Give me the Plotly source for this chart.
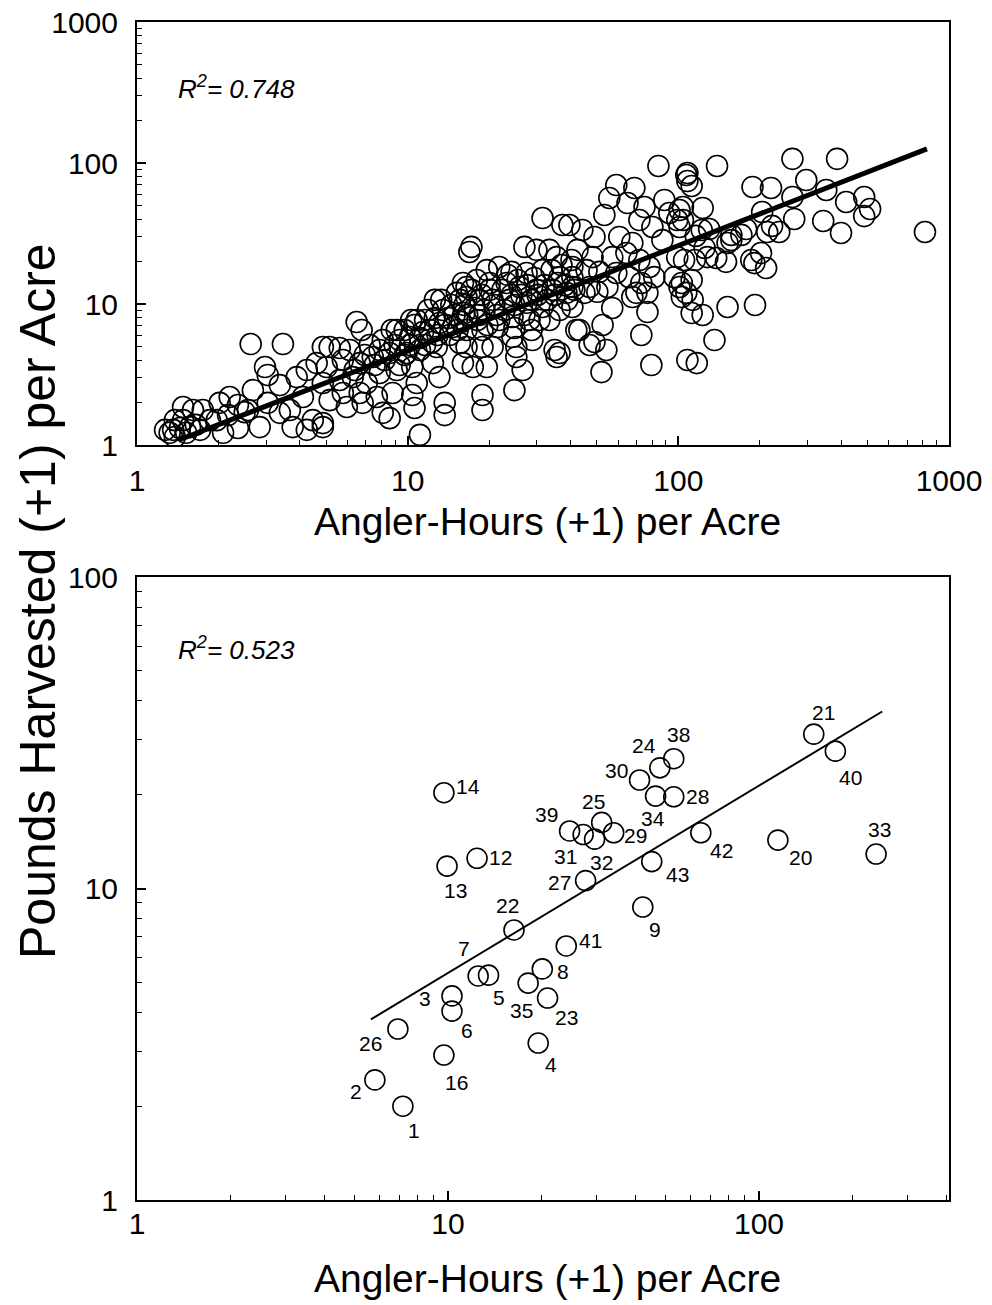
import numpy as np
import plotly.graph_objects as go

# ---------------- data ----------------
# Top panel: angler-hours (+1) per acre vs pounds harvested (+1) per acre
top_x = [
    2.63, 3.46, 2.97, 3.04, 3.37, 2.68, 2.20, 2.02, 2.36, 2.57, 3.04, 2.84, 2.36, 1.97, 1.75,
    1.61, 1.48, 1.48, 1.36, 1.27, 1.57, 3.76, 3.37, 3.67, 4.10, 3.89, 4.24, 4.61, 4.86, 4.46,
    4.86, 4.24, 2.08, 1.71, 1.44, 1.32, 1.38, 1.52, 1.65, 1.86, 2.17, 2.50, 1.38,
    6.48, 6.76, 15.2, 16.5, 10.8, 13.5, 13.1, 9.11, 8.09, 10.2, 11.4, 14.7, 15.6, 5.15, 5.61,
    6.65, 7.43, 8.58, 9.91, 11.1, 12.8, 5.02, 5.76, 4.86, 5.61, 6.27, 7.06, 7.88, 9.11, 10.4,
    12.4, 13.1, 10.8, 8.80, 7.69, 6.65, 5.76, 5.15, 5.96, 6.82, 8.09, 8.58, 10.6, 13.7, 13.7,
    11.1, 4.86, 10.4,
    31.5, 37.3, 17.2, 16.9, 27.0, 29.9, 33.4, 35.5, 19.6, 21.8, 24.2, 27.5, 31.5, 36.4, 40.6,
    16.0, 18.0, 20.1, 23.2, 25.9, 29.9, 34.3, 38.6, 16.5, 18.4, 20.6, 23.8, 27.5, 31.5, 36.4,
    40.6, 16.2, 18.4, 21.3, 24.4, 28.2, 33.4, 16.5, 18.9, 21.5, 24.8, 28.7, 42.0, 16.5, 18.9,
    20.6, 24.4, 25.2, 28.9, 34.9, 35.5, 16.0, 17.4, 19.6, 26.6, 25.2, 24.8, 18.9, 18.9,
    84.4, 107, 59.0, 68.8, 55.6, 64.9, 75.0, 88.8, 92.6, 53.3, 71.8, 80.2, 101, 101, 44.2,
    39.6, 49.0, 60.5, 67.6, 87.3, 99.1, 42.4, 48.2, 57.0, 64.3, 71.8, 78.2, 81.5, 96.7, 103,
    103, 40.6, 45.8, 51.1, 59.0, 65.9, 73.0, 40.6, 47.0, 54.7, 70.0, 76.9, 67.6, 57.0, 76.9,
    43.1, 52.5, 73.0, 47.0, 54.2, 49.0, 52.0, 79.5, 108, 45.0, 50.2, 36.4,
    139, 108, 112, 188, 220, 264, 297, 264, 268, 213, 236, 171, 157, 123, 122,
    104, 104, 125, 138, 150, 186, 202, 211, 191, 115, 128, 105, 112, 107, 113,
    123, 112, 152, 192, 136, 117, 101,
    386, 352, 417, 486, 511, 486, 343, 399, 815,
    108, 204, 222, 178, 152, 157, 130, 116, 99.1,
    9.34, 9.75, 10.2, 10.6, 11.1, 11.6, 12.1, 12.3, 12.6, 12.9, 13.3, 13.7, 14.1, 14.3, 14.5,
    14.9, 15.3, 15.6, 15.8, 16.2, 16.6, 17.2, 17.7, 18.1, 18.8, 19.2, 19.7, 20.1, 20.9, 21.8,
    22.4, 22.8, 23.4, 24.2, 24.8, 25.5, 26.3, 27.0, 27.7, 28.7, 29.4, 30.2, 30.7, 32.0, 32.8,
    34.0, 34.9, 35.8, 37.0, 38.0, 38.9, 40.3, 41.3, 7.88, 8.22, 8.95, 9.34, 9.75, 7.24, 7.55,
    6.94, 6.11, 6.37, 11.9, 12.6, 11.6, 10.3, 8.73,
]
top_y = [
    5.20, 5.20, 3.57, 3.14, 2.66, 2.45, 2.19, 1.99, 1.92, 1.77, 1.99, 1.34, 1.32, 1.50, 1.77,
    1.77, 1.86, 1.50, 1.28, 1.28, 1.34, 1.34, 1.69, 1.77, 2.19, 3.03, 3.40, 3.81, 4.95, 1.50,
    1.43, 1.28, 1.22, 1.28, 1.32, 1.22, 1.14, 1.22, 1.39, 1.50, 1.63, 1.71, 1.50,
    7.45, 6.54, 12.0, 13.2, 7.70, 9.06, 7.33, 6.54, 5.55, 5.83, 6.33, 6.87, 5.29, 4.95, 4.87,
    3.81, 4.21, 4.49, 4.49, 4.72, 4.95, 3.57, 4.01, 2.75, 2.89, 3.03, 2.75, 3.24, 3.40, 3.57,
    3.81, 3.03, 2.75, 2.34, 2.19, 2.34, 2.34, 2.08, 1.86, 1.99, 1.69, 1.55, 1.83, 1.99, 1.63,
    1.18, 1.34, 2.26,
    40.7, 36.3, 25.4, 23.4, 25.4, 24.2, 24.2, 21.5, 17.4, 18.3, 16.9, 16.6, 17.4, 15.5, 15.5,
    14.1, 14.8, 14.1, 14.1, 13.2, 12.6, 12.6, 12.0, 11.2, 10.7, 10.7, 10.7, 10.2, 9.52, 9.06,
    9.52, 8.63, 8.36, 8.36, 8.09, 7.70, 7.70, 6.54, 6.54, 6.87, 6.76, 6.54, 6.54, 4.95, 4.95,
    4.95, 5.83, 4.95, 5.55, 4.72, 4.21, 3.81, 3.57, 3.57, 3.40, 4.21, 2.45, 2.26, 1.77,
    95.3, 82.2, 69.8, 66.5, 56.5, 52.0, 48.7, 54.7, 44.2, 42.8, 39.4, 35.2, 46.4, 35.2, 33.5,
    36.3, 29.9, 29.9, 27.1, 28.4, 21.5, 24.2, 21.5, 21.5, 23.0, 20.5, 18.3, 15.5, 15.5, 14.1,
    11.2, 18.3, 17.4, 16.9, 16.6, 15.5, 14.1, 13.2, 13.2, 13.2, 12.0, 12.0, 11.2, 9.37, 8.77,
    6.54, 7.10, 6.03, 5.12, 4.72, 5.38, 3.29, 3.69, 4.01, 12.0, 12.2, 4.49,
    95.3, 84.9, 68.7, 67.6, 66.5, 107, 75.7, 57.4, 40.1, 32.4, 32.4, 30.9, 30.9, 48.0, 33.5,
    39.4, 48.7, 25.0, 21.2, 19.9, 20.5, 23.0, 18.0, 19.5, 20.5, 21.5, 20.5, 14.8, 12.0, 10.7,
    8.36, 8.63, 9.52, 9.84, 5.55, 3.81, 13.2,
    107, 64.4, 52.9, 57.4, 47.2, 42.0, 38.8, 31.9, 32.4,
    74.5, 44.9, 35.8, 34.0, 27.1, 28.4, 34.0, 30.4, 39.4,
    5.55, 6.54, 5.12, 7.10, 5.74, 7.70, 6.54, 5.38, 7.96, 6.03, 10.7, 7.10, 7.96, 6.03, 9.84,
    8.36, 6.54, 10.7, 7.45, 9.84, 8.36, 12.6, 9.37, 7.70, 11.6, 9.06, 7.10, 12.6, 9.84, 7.70,
    12.6, 9.06, 16.1, 11.6, 9.84, 14.8, 11.6, 8.36, 13.6, 10.7, 15.3, 11.6, 7.70, 13.6, 10.7,
    17.4, 11.6, 14.1, 18.9, 13.6, 10.7, 20.5, 12.6, 4.72, 4.01, 5.12, 3.69, 4.35, 5.12, 3.69,
    4.35, 4.72, 3.40, 9.06, 10.7, 5.12, 7.70, 6.54,
]
top_fit_x = [1.42, 829]
top_fit_y = [1.08, 126]
top_r2 = "0.748"

# Bottom panel: numbered lakes
bot_ids = [1, 2, 3, 4, 5, 6, 7, 8, 9, 12, 13, 14, 16, 20, 21, 22, 23, 24, 25, 26,
           27, 28, 29, 30, 31, 32, 33, 34, 35, 38, 39, 40, 41, 42, 43]
bot_x = [7.16, 5.82, 10.3, 19.5, 13.5, 10.3, 12.5, 20.1, 42.3, 12.4, 9.93, 9.7, 9.7, 115, 150,
         16.3, 20.9, 48.0, 31.2, 6.9, 27.7, 53.2, 34.1, 41.3, 27.2, 29.6, 238, 46.5, 18.1, 53.2,
         24.6, 176, 24.0, 65.0, 45.2]
bot_y = [2.00, 2.43, 4.52, 3.19, 5.27, 4.04, 5.24, 5.52, 8.72, 12.5, 11.8, 20.3, 2.92, 14.3, 31.3,
         7.36, 4.45, 24.4, 16.3, 3.54, 10.6, 19.7, 15.1, 22.3, 14.9, 14.4, 12.9, 19.8, 4.97, 26.1,
         15.3, 27.6, 6.54, 15.1, 12.2]
bot_fit_x = [5.65, 249]
bot_fit_y = [3.8, 37]
bot_r2 = "0.523"

x_title = "Angler-Hours (+1) per Acre"
y_title = "Pounds Harvested (+1) per Acre"

# ---------------- styling / layout ----------------
# The page body has an 8px margin, so the figure starts 8px in from the window corner
OFF = 8
W, H = 992 - OFF, 1305 - OFF
FONT = "Liberation Sans, Arial, Helvetica, sans-serif"

def px_x(p):  # window pixel -> paper fraction
    return (p - OFF) / W

def px_y(p):
    return 1 - (p - OFF) / H

# label offsets in pixels (dx right, dy down) for bottom-panel numbers
label_off = {
    1: (11, 24), 2: (-19, 12), 3: (-27, 3), 4: (13, 21), 5: (10, 22), 6: (15, 19),
    7: (-14, -27), 8: (21, 3), 9: (12, 22), 12: (23, -1), 13: (8, 24), 14: (24, -6),
    16: (13, 27), 20: (23, 17), 21: (10, -22), 22: (-6, -24), 23: (19, 19), 24: (-16, -22),
    25: (-8, -21), 26: (-27, 15), 27: (-26, 2), 28: (24, 0), 29: (22, 3), 30: (-23, -10),
    31: (-18, 22), 32: (7, 23), 33: (3, -25), 34: (-3, 22), 35: (-7, 27), 38: (5, -24),
    39: (-23, -16), 40: (15, 26), 41: (24, -5), 42: (21, 18), 43: (26, 13),
}

fig = go.Figure()

fig.add_trace(go.Scatter(
    x=top_x, y=top_y, mode="markers", xaxis="x", yaxis="y",
    marker=dict(symbol="circle-open", size=21, color="black", line=dict(width=1.6, color="black")),
    showlegend=False, hoverinfo="skip"))
fig.add_trace(go.Scatter(
    x=top_fit_x, y=top_fit_y, mode="lines", xaxis="x", yaxis="y",
    line=dict(color="black", width=5), showlegend=False, hoverinfo="skip"))

fig.add_trace(go.Scatter(
    x=bot_x, y=bot_y, mode="markers", xaxis="x2", yaxis="y2",
    marker=dict(symbol="circle-open", size=20, color="black", line=dict(width=1.6, color="black")),
    showlegend=False, hoverinfo="skip"))
fig.add_trace(go.Scatter(
    x=bot_fit_x, y=bot_fit_y, mode="lines", xaxis="x2", yaxis="y2",
    line=dict(color="black", width=2), showlegend=False, hoverinfo="skip"))

def minor_vals(lo_exp, hi_exp):
    vals = []
    for e in range(lo_exp, hi_exp):
        for m in range(2, 10):
            vals.append(m * 10 ** e)
    return vals

def log_axis(domain, rng, major, minor, anchor, label_standoff, side):
    return dict(
        type="log", domain=domain, range=rng, anchor=anchor, automargin=False,
        tickmode="array", tickvals=major, ticktext=[str(v) for v in major],
        ticks="inside", ticklen=9, tickwidth=1.5, tickcolor="black",
        minor=dict(ticks="inside", ticklen=5, tickwidth=1, tickcolor="black",
                   tickmode="array", tickvals=minor, showgrid=False),
        showline=True, mirror=True, linecolor="black", linewidth=2,
        showgrid=False, zeroline=False,
        tickfont=dict(family=FONT, size=30, color="black"),
        ticklabelstandoff=label_standoff, ticklabeloverflow="allow", side=side,
    )

x_dom = [px_x(137), px_x(949)]
top_dom = [px_y(445), px_y(22)]
bot_dom = [px_y(1200), px_y(577)]

bot_xmax = (949 - 137) / 311.0

fig.update_layout(
    width=W, height=H, margin=dict(l=0, r=0, t=0, b=0, autoexpand=False),
    paper_bgcolor="white", plot_bgcolor="white",
    xaxis=log_axis(x_dom, [0, 3], [1, 10, 100, 1000], minor_vals(0, 3), "y", 8, "bottom"),
    yaxis=log_axis(top_dom, [0, 3], [1, 10, 100, 1000], minor_vals(0, 3), "x", 11, "left"),
    xaxis2=log_axis(x_dom, [0, bot_xmax], [1, 10, 100], minor_vals(0, 3), "y2", -4, "bottom"),
    yaxis2=log_axis(bot_dom, [0, 2], [1, 10, 100], minor_vals(0, 2), "x2", 11, "left"),
)

ann = []
# R^2 texts
for txt, yp in ((top_r2, 88), (bot_r2, 648)):
    ann.append(dict(xref="paper", yref="paper", x=px_x(176), y=px_y(yp), xanchor="left",
                    yanchor="middle", showarrow=False,
                    text="<i>R<sup>2</sup>= " + txt + "</i>",
                    font=dict(family=FONT, size=26, color="black")))
# axis titles
for yp in (521, 1278):
    ann.append(dict(xref="paper", yref="paper", x=px_x(547), y=px_y(yp), xanchor="center",
                    yanchor="middle", showarrow=False, text=x_title,
                    font=dict(family=FONT, size=39, color="black")))
ann.append(dict(xref="paper", yref="paper", x=px_x(38), y=px_y(601), xanchor="center",
                yanchor="middle", showarrow=False, text=y_title, textangle=-90,
                font=dict(family=FONT, size=50, color="black")))
# bottom-panel point labels
for i, xv, yv in zip(bot_ids, bot_x, bot_y):
    dx, dy = label_off[i]
    ann.append(dict(xref="x2", yref="y2", x=np.log10(xv), y=np.log10(yv),
                    xshift=dx, yshift=-dy, showarrow=False, text=str(i),
                    xanchor="center", yanchor="middle",
                    font=dict(family=FONT, size=21, color="black")))
fig.update_layout(annotations=ann)

fig.write_html("out.html")
